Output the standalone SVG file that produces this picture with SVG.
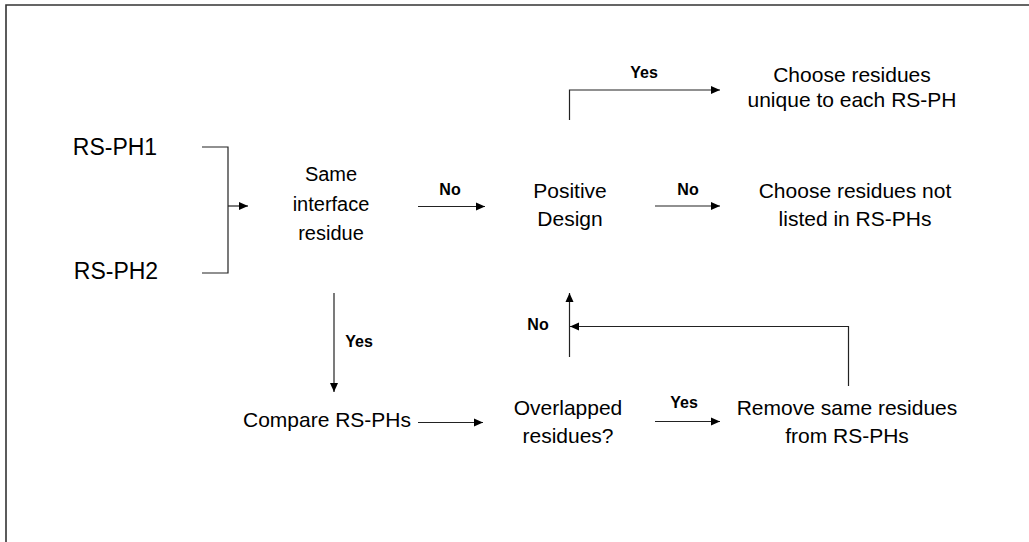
<svg xmlns="http://www.w3.org/2000/svg" width="1029" height="542" viewBox="0 0 1029 542">
<style>
.t{font-family:"Liberation Sans",Arial,sans-serif;font-size:21px;fill:#000;text-anchor:middle}
.b{font-family:"Liberation Sans",Arial,sans-serif;font-size:16px;font-weight:bold;fill:#000;text-anchor:middle}
.c{fill:none;stroke:#222;stroke-width:1.2}
</style>
<defs>
<marker id="ah" markerUnits="userSpaceOnUse" markerWidth="10" markerHeight="10" viewBox="0 0 10 10" refX="9" refY="5" orient="auto">
<path d="M0,1 L9,5 L0,9 Z" fill="#000"/>
</marker>
</defs>
<rect width="1029" height="542" fill="#fff"/>
<path d="M6,542 V5 H1029" fill="none" stroke="#333" stroke-width="1.6"/>
<g id="n-rsph1"><text class="t" x="115" y="155" style="font-size:23px">RS-PH1</text></g>
<g id="n-rsph2"><text class="t" x="116" y="279" style="font-size:23px">RS-PH2</text></g>
<g id="n-same"><text class="t" x="331" y="181" style="font-size:20px">Same</text><text class="t" x="331" y="211" style="font-size:20px">interface</text><text class="t" x="331" y="240" style="font-size:20px">residue</text></g>
<g id="n-positive"><text class="t" x="570" y="198">Positive</text><text class="t" x="570" y="226">Design</text></g>
<g id="n-unique"><text class="t" x="852" y="82">Choose residues</text><text class="t" x="852" y="107">unique to each RS-PH</text></g>
<g id="n-notlisted"><text class="t" x="855" y="198">Choose residues not</text><text class="t" x="855" y="226">listed in RS-PHs</text></g>
<g id="n-compare"><text class="t" x="327" y="427">Compare RS-PHs</text></g>
<g id="n-overlapped"><text class="t" x="568" y="415">Overlapped</text><text class="t" x="568" y="443">residues?</text></g>
<g id="n-remove"><text class="t" x="847" y="415">Remove same residues</text><text class="t" x="847" y="443">from RS-PHs</text></g>
<g id="connectors">
<path class="c" d="M202,147 H228 V273 H202"/>
<path class="c" d="M228,206 H248" marker-end="url(#ah)"/>
<path class="c" d="M418,206.5 H485" marker-end="url(#ah)"/>
<text class="b" x="450" y="195">No</text>
<path class="c" d="M569.5,120 V90 H720" marker-end="url(#ah)"/>
<text class="b" x="644" y="78">Yes</text>
<path class="c" d="M655,206 H720" marker-end="url(#ah)"/>
<text class="b" x="688" y="195">No</text>
<path class="c" d="M334,293 V392" marker-end="url(#ah)"/>
<text class="b" x="359" y="347">Yes</text>
<path class="c" d="M418,422.5 H483" marker-end="url(#ah)"/>
<path class="c" d="M655,421.5 H720" marker-end="url(#ah)"/>
<text class="b" x="684" y="408">Yes</text>
<path class="c" d="M569.5,357 V293" marker-end="url(#ah)"/>
<text class="b" x="538" y="330">No</text>
<path class="c" d="M848.5,386 V326.5 H570" marker-end="url(#ah)"/>
</g>
</svg>
